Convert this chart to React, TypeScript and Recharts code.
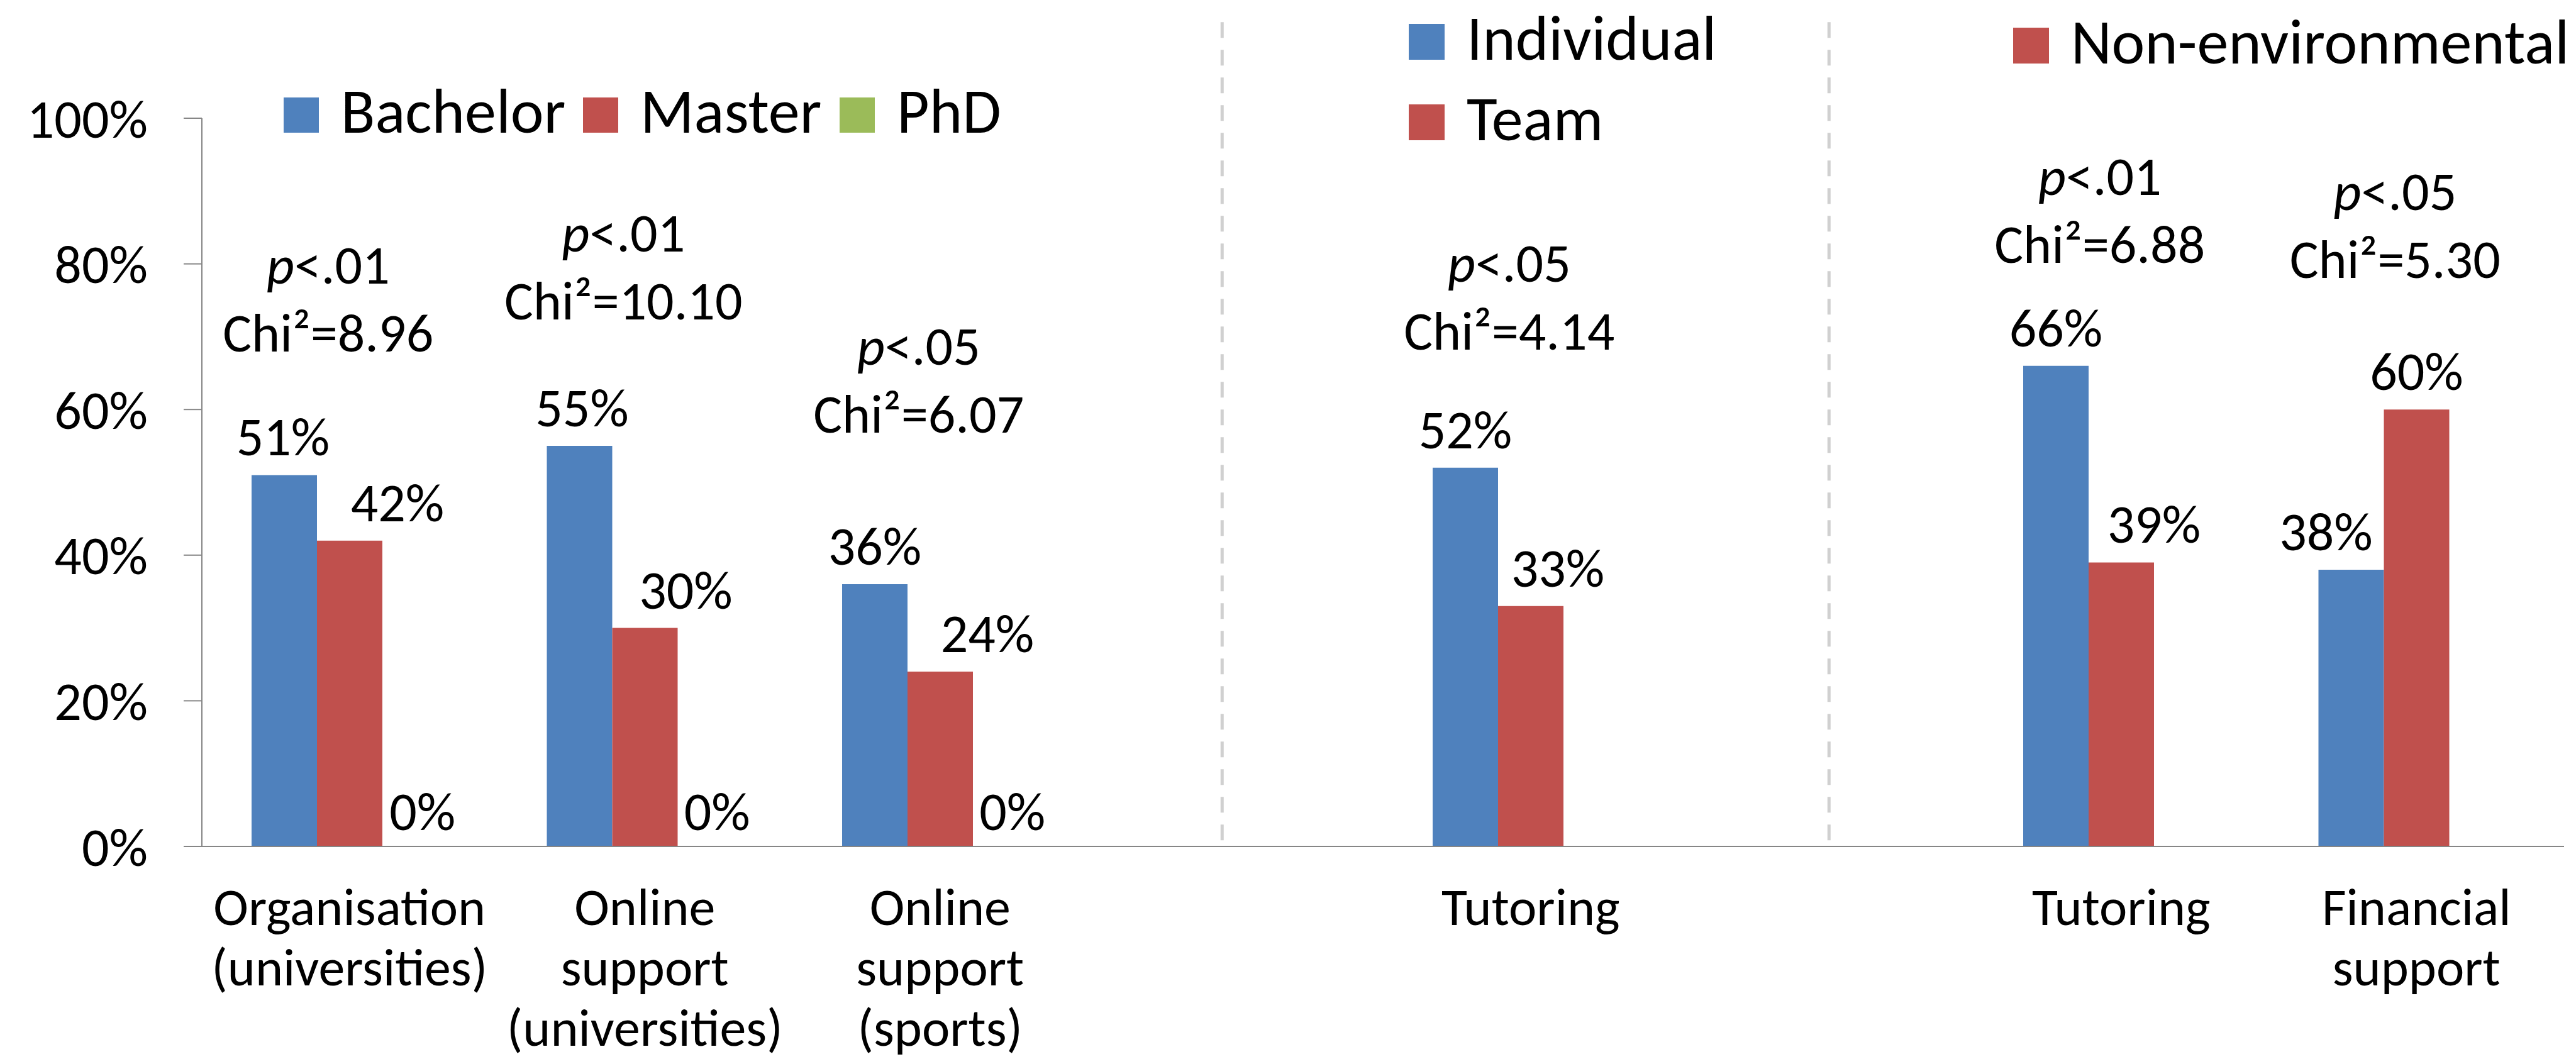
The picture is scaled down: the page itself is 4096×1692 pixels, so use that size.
import React from 'react'
import { BarChart, Bar, XAxis, YAxis, LabelList, ReferenceLine, ReferenceDot } from 'recharts'

// categories (line breaks = wrapped axis labels); empty slots hold the section separators
const categories = [
  'Organisation\n(universities)',
  'Online\nsupport\n(universities)',
  'Online\nsupport\n(sports)',
  '',
  'Tutoring',
  '',
  'Tutoring',
  'Financial\nsupport',
]
const bachelor = [51, 55, 36, null, 52, null, 66, 38]
const master = [42, 30, 24, null, 33, null, 39, 60]
const phd = [0, 0, 0, null, null, null, null, null]

// significance notes above each group
const pValues = ['.01', '.01', '.05', null, '.05', null, '.01', '.05']
const chiValues = ['8.96', '10.10', '6.07', null, '4.14', null, '6.88', '5.30']
const noteLevels = [68, 72.4, 56.8, null, 68.2, null, 80.1, 78.1]

const yTicks = [0, 20, 40, 60, 80, 100]
// empty slots that carry the dashed section separators
const dividerSlots = [3, 5]

const legendDegree = ['Bachelor', 'Master', 'PhD']
const legendWork = ['Individual', 'Team']
const legendTopic = ['Non-environmental']

const BLUE = '#4F81BD'
const RED = '#C0504D'
const GREEN = '#9BBB59'
const AXIS = '#868686'
const FONT = 'Carlito, Calibri, Lato, sans-serif'

const W = 4096
const H = 1692
const BAR = 104

const data = categories.map((c, i) => ({
  key: `c${i}`,
  label: c,
  bachelor: bachelor[i],
  master: master[i],
  phd: phd[i],
}))

// hand-placed nudges, as in the original
const bachelorShift = [-2, 4, 0, 0, 0, 0, 0, -40]
const masterShift = [76, 65, 75, 0, 43, 0, 52, 0]
const phdShift = [12, 11, 11, 0, 0, 0, 0, 0]
const dividerNudge = [-21, 5]

// Recharts drops empty bars from the label list, so labels carry the row key
function valueLabel(values: (number | null)[], shifts: number[]) {
  const present = values.map((_, i) => i).filter(i => values[i] != null && values[i] !== 0)
  return (props: any) => {
    const { value, index } = props
    let i: number
    if (typeof value === 'string' && value.startsWith('c')) i = Number(value.slice(1))
    else i = present[index] ?? index
    const v = values[i]
    if (v == null) return null
    const vb = props.viewBox && props.viewBox.width != null ? props.viewBox : props
    const x = vb.x + vb.width / 2 + (shifts[i] || 0)
    return (
      <text x={x} y={vb.y - 31} textAnchor="middle" fontSize={86} fontFamily={FONT} fill="#000">
        {v}%
      </text>
    )
  }
}

function ZeroLabel(props: any) {
  const { viewBox, value, shift } = props
  if (!viewBox) return null
  return (
    <text x={viewBox.x + BAR + shift} y={viewBox.y - 26} textAnchor="middle" fontSize={86} fontFamily={FONT} fill="#000">
      {value}%
    </text>
  )
}

function CategoryTick(props: any) {
  const { x, y, payload } = props
  const row = data.find(d => d.key === payload.value)
  if (!row || !row.label) return null
  const lines = row.label.split('\n')
  return (
    <text x={x} y={y + 125} textAnchor="middle" fontSize={84} fontFamily={FONT} fill="#000">
      {lines.map((l, i) => (
        <tspan key={i} x={x} dy={i === 0 ? 0 : 96}>{l}</tspan>
      ))}
    </text>
  )
}

function NoteLabel(props: any) {
  const { viewBox, p, chi } = props
  if (!viewBox) return null
  const x = viewBox.x - 34
  const y = viewBox.y
  return (
    <g fontSize={86} fontFamily={FONT} fill="#000">
      <text x={x} y={y - 108} textAnchor="middle">
        <tspan fontStyle="italic">p</tspan>&lt;{p}
      </text>
      <text x={x} y={y} textAnchor="middle">Chi²={chi}</text>
    </g>
  )
}

function LegendItem({ x, y, label, color, size }: any) {
  // x,y = top-left of swatch
  return (
    <g>
      <rect x={x} y={y} width={size} height={size} fill={color} />
      <text x={x + size + 35} y={y + size} fontSize={100} fontFamily={FONT} fill="#000">{label}</text>
    </g>
  )
}

function Legends() {
  return (
    <svg width={W} height={H} style={{ position: 'absolute', left: 0, top: 0, pointerEvents: 'none' }}>
      <LegendItem x={451} y={155} size={56} label={legendDegree[0]} color={BLUE} />
      <LegendItem x={927} y={155} size={56} label={legendDegree[1]} color={RED} />
      <LegendItem x={1335} y={155} size={56} label={legendDegree[2]} color={GREEN} />
      <LegendItem x={2240} y={38} size={57} label={legendWork[0]} color={BLUE} />
      <LegendItem x={2240} y={166} size={57} label={legendWork[1]} color={RED} />
      <LegendItem x={3201} y={44} size={57} label={legendTopic[0]} color={RED} />
    </svg>
  )
}

export default function App() {
  return (
    <div style={{ position: 'absolute', left: 0, top: 0, width: W, height: H, background: '#fff' }}>
      <BarChart
        width={W}
        height={H}
        data={data}
        barGap={0}
        margin={{ top: 188, right: 19, bottom: 0, left: 0 }}
      >
        <XAxis
          dataKey="key"
          height={346}
          interval={0}
          tickSize={0}
          tickMargin={0}
          tickLine={false}
          axisLine={{ stroke: AXIS, strokeWidth: 2 }}
          tick={<CategoryTick />}
        />
        <YAxis
          domain={[0, 100]}
          ticks={yTicks}
          interval={0}
          width={321}
          tickSize={29}
          tickMargin={57}
          tickFormatter={(v: number) => `${v}%`}
          axisLine={{ stroke: AXIS, strokeWidth: 2 }}
          tickLine={{ stroke: AXIS, strokeWidth: 2 }}
          tick={{ fontSize: 86, fill: '#000', fontFamily: FONT }}
        />
        {dividerSlots.map((s, k) => (
          <ReferenceLine
            key={s}
            segment={[{ x: data[s].key, y: 113.2 }, { x: data[s].key, y: 0 }]}
            ifOverflow="visible"
            stroke="#d0d0d0"
            strokeWidth={5}
            strokeDasharray="25 19"
            shape={(p: any) => (
              <line
                x1={p.x1 + dividerNudge[k]}
                y1={p.y1}
                x2={p.x2 + dividerNudge[k]}
                y2={p.y2}
                stroke="#d0d0d0"
                strokeWidth={5}
                strokeDasharray="25 19"
              />
            )}
          />
        ))}
        <Bar dataKey="bachelor" name="Bachelor" fill={BLUE} barSize={BAR} isAnimationActive={false}>
          <LabelList valueAccessor={(e: any) => e?.payload?.key} content={valueLabel(bachelor, bachelorShift)} />
        </Bar>
        <Bar dataKey="master" name="Master" fill={RED} barSize={BAR} isAnimationActive={false}>
          <LabelList valueAccessor={(e: any) => e?.payload?.key} content={valueLabel(master, masterShift)} />
        </Bar>
        <Bar dataKey="phd" name="PhD" fill={GREEN} barSize={BAR} isAnimationActive={false} />
        {phd.map((v, i) =>
          v == null ? null : (
            <ReferenceDot
              key={`z${i}`}
              x={data[i].key}
              y={v}
              r={0}
              fill="none"
              stroke="none"
              ifOverflow="visible"
              label={<ZeroLabel value={v} shift={phdShift[i]} />}
            />
          )
        )}
        {noteLevels.map((lv, i) =>
          lv == null ? null : (
            <ReferenceDot
              key={i}
              x={data[i].key}
              y={lv}
              r={0}
              fill="none"
              stroke="none"
              ifOverflow="visible"
              label={<NoteLabel p={pValues[i]} chi={chiValues[i]} />}
            />
          )
        )}
      </BarChart>
      <Legends />
    </div>
  )
}
